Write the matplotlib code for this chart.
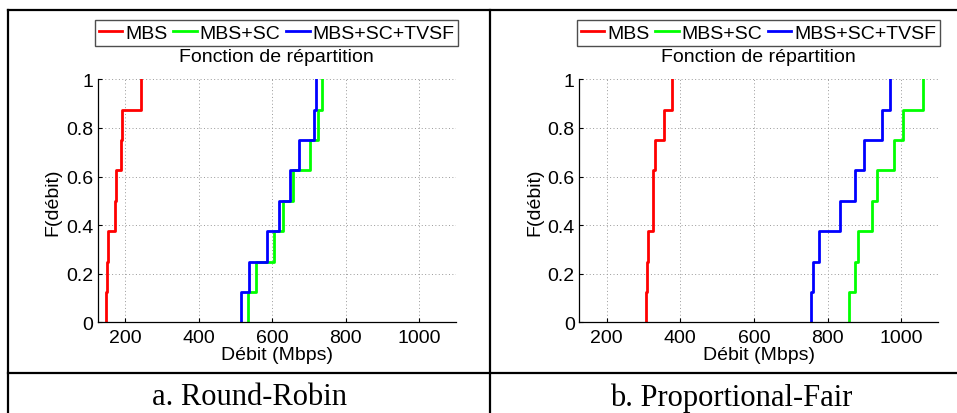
import numpy as np
import matplotlib
matplotlib.use("Agg")
import matplotlib.pyplot as plt
from matplotlib.lines import Line2D

# ---------------- data ----------------
series_names = ["MBS", "MBS+SC", "MBS+SC+TVSF"]
series_colors = ["#ff0000", "#00ff00", "#0000ff"]

# Round-Robin samples (Mbps), 8 users
rr_mbs = [148, 151, 154, 172, 174, 188, 190, 243]
rr_mbs_sc = [534, 557, 605, 628, 657, 702, 725, 735]
rr_mbs_sc_tvsf = [516, 538, 586, 618, 648, 673, 714, 718]

# Proportional-Fair samples (Mbps), 8 users
pf_mbs = [306, 310, 311, 326, 326, 330, 357, 378]
pf_mbs_sc = [859, 873, 882, 920, 934, 979, 1004, 1059]
pf_mbs_sc_tvsf = [755, 760, 777, 834, 875, 898, 948, 970]

x_ticks = [200, 400, 600, 800, 1000]
y_ticks = [0, 0.2, 0.4, 0.6, 0.8, 1]
y_tick_labels = ["0", "0.2", "0.4", "0.6", "0.8", "1"]
captions = ["a. Round-Robin", "b. Proportional-Fair"]
title_text = "Fonction de répartition"
xlabel_text = "Débit (Mbps)"
ylabel_text = "F(débit)"

panels = [
    [rr_mbs, rr_mbs_sc, rr_mbs_sc_tvsf],
    [pf_mbs, pf_mbs_sc, pf_mbs_sc_tvsf],
]

# ---------------- figure ----------------
W, H = 957, 414
fig = plt.figure(figsize=(W / 100, H / 100), dpi=100)
plt.rcParams["font.family"] = ["Liberation Sans", "DejaVu Sans"]

def px(x0, y0, x1, y1):
    # pixel box (top-left origin) -> figure fraction rect
    return [x0 / W, 1 - y1 / H, (x1 - x0) / W, (y1 - y0) / H]

axes_boxes = [(97.7, 80.3, 456.0, 323.3), (579.0, 80.3, 938.3, 323.3)]
ylabel_x = [53, 535]
cell_centers = [249, 731]
fs = 14

for i, (box, data) in enumerate(zip(axes_boxes, panels)):
    ax = fig.add_axes(px(*box))
    for vals, name, col in zip(data, series_names, series_colors):
        xs = np.sort(np.asarray(vals, dtype=float))
        F = np.arange(1, len(xs) + 1) / len(xs)
        ax.step(np.r_[xs[0], xs], np.r_[0, F], where="post",
                color=col, lw=2.0, label=name)
    ax.set_xlim(125, 1100)
    ax.set_ylim(0, 1)
    ax.set_xticks(x_ticks)
    ax.set_yticks(y_ticks)
    ax.set_yticklabels(y_tick_labels)
    ax.grid(True, linestyle=(0, (1, 2.5)), color="#999999", lw=0.7)
    ax.set_axisbelow(True)
    for s in ["top", "right"]:
        ax.spines[s].set_visible(False)
    for s in ["left", "bottom"]:
        ax.spines[s].set_linewidth(0.9)
    ax.tick_params(direction="in", length=3, width=0.8, labelsize=fs)
    ax.tick_params(axis="x", pad=5)
    ax.tick_params(axis="y", pad=3)
    ax.set_xlabel(xlabel_text, fontsize=fs, va="center")
    ax.xaxis.set_label_coords(0.5, (323.3 - 356) / 243.0)
    ax.set_ylabel(ylabel_text, fontsize=fs, va="center")
    ax.yaxis.set_label_coords((ylabel_x[i] - box[0]) / (box[2] - box[0]), 0.5)

    # title
    fig.text((box[0] + box[2]) / 2 / W, 1 - 58 / H, title_text,
             ha="center", va="center", fontsize=fs)
    # legend above
    leg = ax.legend(loc="center", bbox_to_anchor=(0.5, 1 + (80.3 - 34) / 243.0),
                    ncol=3, fontsize=fs, frameon=True, fancybox=False,
                    handlelength=1.2, handletextpad=0.15, columnspacing=0.3,
                    borderpad=0.2, borderaxespad=0)
    leg.get_frame().set_edgecolor("#222222")
    leg.get_frame().set_linewidth(1.0)

    # caption
    fig.text(cell_centers[i] / W, 1 - 398 / H, captions[i], ha="center",
             va="center", fontsize=22, family=["Liberation Serif", "DejaVu Serif"])

# table frame lines
lw = 1.6
fig.add_artist(Line2D([8 / W, 1], [1 - 11 / H, 1 - 11 / H], transform=fig.transFigure, color="black", lw=lw))
fig.add_artist(Line2D([8 / W, 1], [1 - 373.7 / H, 1 - 373.7 / H], transform=fig.transFigure, color="black", lw=lw))
fig.add_artist(Line2D([8 / W, 8 / W], [0, 1 - 11 / H], transform=fig.transFigure, color="black", lw=lw))
fig.add_artist(Line2D([490 / W, 490 / W], [0, 1 - 11 / H], transform=fig.transFigure, color="black", lw=lw))

fig.savefig("out.png", dpi=100)
